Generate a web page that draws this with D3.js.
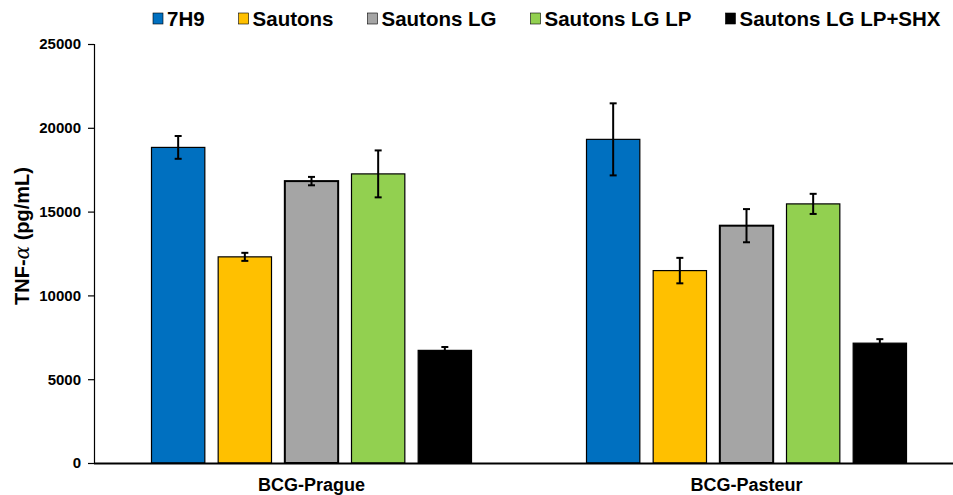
<!DOCTYPE html>
<html>
<head>
<meta charset="utf-8">
<script src="https://cdn.jsdelivr.net/npm/d3@7"></script>
<style>
  html, body { margin: 0; padding: 0; background: #fff; }
  svg { display: block; }
  text { font-family: "Liberation Sans", Arial, sans-serif; font-weight: bold; fill: #000; }
</style>
</head>
<body>
<svg id="chart" width="953" height="495"></svg>
<script>
const categories = ["BCG-Prague", "BCG-Pasteur"];
const series = ["7H9", "Sautons", "Sautons LG", "Sautons LG LP", "Sautons LG LP+SHX"];
const seriesColors = ["#0070C0", "#FFC000", "#A5A5A5", "#92D050", "#000000"];
const pragueMeans = [18830, 12300, 16820, 17250, 6720];
const pragueErrors = [680, 240, 250, 1400, 200];
const pasteurMeans = [19310, 11480, 14160, 15460, 7150];
const pasteurErrors = [2150, 760, 990, 600, 240];
const yTicks = [0, 5000, 10000, 15000, 20000, 25000];
const yTitleParts = ["TNF-", "\u03B1", " (pg/mL)"];

(function () {
const rows = [];
[pragueMeans, pasteurMeans].forEach((means, gi) => {
  const errs = gi === 0 ? pragueErrors : pasteurErrors;
  series.forEach((s, si) => rows.push({cat: categories[gi], s, v: means[si], e: errs[si], c: seriesColors[si]}));
});

const svg = d3.select("#chart");
const mLeft = 94, mRight = 964, mTop = 44, mBottom = 463;

const y = d3.scaleLinear().domain([0, 25000]).range([mBottom, mTop]);
const x0 = d3.scaleBand().domain(categories).range([mLeft, mRight]).paddingInner(0).paddingOuter(0);
const groupW = x0.bandwidth();
const x1 = d3.scaleBand().domain(series)
  .range([groupW / 2 - 160, groupW / 2 + 160]).paddingInner(0.2).paddingOuter(0);

// bars
svg.append("g").selectAll("rect").data(rows).join("rect")
  .attr("x", d => x0(d.cat) + x1(d.s))
  .attr("y", d => y(d.v))
  .attr("width", x1.bandwidth())
  .attr("height", d => y(0) - y(d.v))
  .attr("fill", d => d.c)
  .attr("stroke", "#000")
  .attr("stroke-width", d => d.s === "Sautons LG" ? 2 : 1.2);

// error bars
const eb = svg.append("g").attr("stroke", "#000").attr("stroke-width", 2);
rows.forEach(d => {
  const cx = x0(d.cat) + x1(d.s) + x1.bandwidth() / 2;
  eb.append("line").attr("x1", cx).attr("x2", cx).attr("y1", y(d.v + d.e)).attr("y2", y(d.v - d.e));
  eb.append("line").attr("x1", cx - 3.5).attr("x2", cx + 3.5).attr("y1", y(d.v + d.e)).attr("y2", y(d.v + d.e));
  eb.append("line").attr("x1", cx - 3.5).attr("x2", cx + 3.5).attr("y1", y(d.v - d.e)).attr("y2", y(d.v - d.e));
});

// y axis
const yAxis = svg.append("g").attr("transform", `translate(${mLeft},0)`)
  .call(d3.axisLeft(y).tickValues(yTicks).tickFormat(d3.format("d")).tickSizeOuter(0).tickSize(6).tickPadding(7));
yAxis.select(".domain").attr("stroke", "#000").attr("stroke-width", 1.2);
yAxis.selectAll(".tick line").attr("stroke", "#000").attr("stroke-width", 1.2);
yAxis.selectAll(".tick text").style("font-size", "15px").style("font-family", "Liberation Sans, Arial, sans-serif").style("font-weight", "bold").attr("fill", "#000");

// x axis
const xAxis = svg.append("g").attr("transform", `translate(0,${mBottom})`)
  .call(d3.axisBottom(x0).tickSize(0).tickPadding(15));
xAxis.select(".domain").attr("d", `M${mLeft},0.5H953`).attr("stroke", "#000").attr("stroke-width", 2);
xAxis.selectAll(".tick text").style("font-size", "18px").style("font-family", "Liberation Sans, Arial, sans-serif").style("font-weight", "bold").attr("fill", "#000");

// y title
const yt = svg.append("text")
  .attr("transform", "translate(29,236) rotate(-90)")
  .attr("text-anchor", "middle")
  .style("font-size", "20px");
yt.append("tspan").text(yTitleParts[0]);
yt.append("tspan").style("font-family", "'DejaVu Serif', 'Liberation Serif', serif")
  .style("font-style", "italic").style("font-weight", "normal").text(yTitleParts[1]);
yt.append("tspan").text(yTitleParts[2]);

// legend
const lg = svg.append("g");
let lx = 153;
series.forEach((s, i) => {
  lg.append("rect").attr("x", lx).attr("y", 13).attr("width", 10).attr("height", 11)
    .attr("fill", seriesColors[i]).attr("stroke", "#000").attr("stroke-width", 0.6);
  const t = lg.append("text").attr("x", lx + 14).attr("y", 26).style("font-size", "20.5px").text(s);
  lx += 14 + t.node().getComputedTextLength() + 34;
});
})();
</script>
</body>
</html>
